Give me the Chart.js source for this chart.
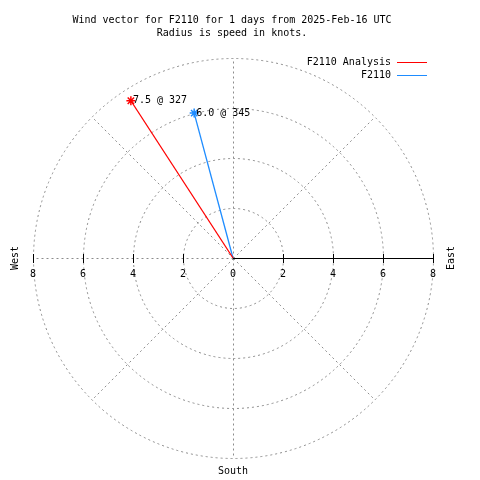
<!DOCTYPE html>
<html>
<head>
<meta charset="utf-8">
<title>Wind vector F2110</title>
<script src="https://cdn.jsdelivr.net/npm/chart.js@4.4.1/dist/chart.umd.min.js"></script>
<style>
  body { margin: 0; background: #fff; }
  canvas { display: block; }
</style>
</head>
<body>
<canvas id="wind" width="480" height="480"></canvas>
<script>
// data
var seriesNames = ['F2110 Analysis', 'F2110'];
var speeds = [7.5, 6.0];        // knots
var directions = [327, 345];    // degrees from north
var seriesColors = ['#ff0000', '#1e8cff'];
var ringTicks = [2, 4, 6, 8];
var axisTicks = [-8, -6, -4, -2, 0, 2, 4, 6, 8];
var spokeAngles = [0, 45, 90, 135, 180, 225, 270, 315];
var titleLines = ['Wind vector for F2110 for 1 days from 2025-Feb-16 UTC', 'Radius is speed in knots.'];

var FONT = '10px "DejaVu Sans Mono", "Liberation Mono", monospace';
var maxR = 8;

function toXY(speed, dir) {
    var a = dir * Math.PI / 180;
    return { x: speed * Math.sin(a), y: speed * Math.cos(a) };
}

var datasets = [];
for (var i = 0; i < speeds.length; i++) {
    datasets.push({
        label: seriesNames[i],
        data: [{ x: 0, y: 0 }, toXY(speeds[i], directions[i])],
        showLine: true,
        borderColor: seriesColors[i],
        backgroundColor: seriesColors[i],
        borderWidth: 1.3,
        pointStyle: 'star',
        pointRadius: [0, 4.5],
        pointBorderWidth: 1.5,
        pointBorderColor: seriesColors[i]
    });
}

var polarGrid = {
    id: 'polarGrid',
    beforeDatasetsDraw: function (chart) {
        var c = chart.ctx, xs = chart.scales.x, ys = chart.scales.y;
        var cx = xs.getPixelForValue(0), cy = ys.getPixelForValue(0);
        var unit = xs.getPixelForValue(1) - cx;
        c.save();
        c.strokeStyle = '#8c8c8c';
        c.lineWidth = 1;
        c.setLineDash([2, 3]);
        ringTicks.forEach(function (r) {
            c.beginPath();
            c.arc(cx + 0.5, cy + 0.5, r * unit, 0, Math.PI * 2);
            c.stroke();
        });
        spokeAngles.forEach(function (a) {
            if (a === 90) return; // east half is the solid axis
            var p = toXY(maxR, a);
            c.beginPath();
            c.moveTo(cx + 0.5, cy + 0.5);
            c.lineTo(xs.getPixelForValue(p.x) + 0.5, ys.getPixelForValue(p.y) + 0.5);
            c.stroke();
        });
        c.setLineDash([]);
        // solid axis to the east
        c.strokeStyle = '#000';
        c.beginPath();
        c.moveTo(cx, cy + 0.5);
        c.lineTo(xs.getPixelForValue(maxR), cy + 0.5);
        c.stroke();
        // tick marks
        axisTicks.forEach(function (t) {
            if (t === 0) return;
            var px = Math.round(xs.getPixelForValue(t)) + 0.5;
            c.beginPath();
            c.moveTo(px, cy - 4);
            c.lineTo(px, cy + 5);
            c.stroke();
        });
        c.restore();
    },
    afterDraw: function (chart) {
        var c = chart.ctx, xs = chart.scales.x, ys = chart.scales.y;
        var cx = xs.getPixelForValue(0), cy = ys.getPixelForValue(0);
        c.save();
        c.font = FONT;
        c.fillStyle = '#000';
        c.textBaseline = 'middle';

        // title
        c.textAlign = 'center';
        c.fillText(titleLines[0], 232, 20);
        c.fillText(titleLines[1], 232, 33);

        // tick labels
        axisTicks.forEach(function (t) {
            c.fillText(String(Math.abs(t)), xs.getPixelForValue(t), cy + 16);
        });

        // compass labels
        c.fillText('South', cx, ys.getPixelForValue(-maxR) + 13);
        c.save();
        c.translate(xs.getPixelForValue(-maxR) - 18, cy);
        c.rotate(-Math.PI / 2);
        c.fillText('West', 0, 0);
        c.restore();
        c.save();
        c.translate(xs.getPixelForValue(maxR) + 18, cy);
        c.rotate(-Math.PI / 2);
        c.fillText('East', 0, 0);
        c.restore();

        // vector labels
        c.textAlign = 'left';
        for (var i = 0; i < speeds.length; i++) {
            var p = toXY(speeds[i], directions[i]);
            c.fillText(speeds[i].toFixed(1) + ' @ ' + directions[i],
                xs.getPixelForValue(p.x) + 2, ys.getPixelForValue(p.y));
        }

        // key
        for (var k = 0; k < seriesNames.length; k++) {
            var ky = 62 + k * 13;
            c.fillStyle = '#000';
            c.textAlign = 'right';
            c.fillText(seriesNames[k], 391, ky);
            c.fillStyle = seriesColors[k];
            c.fillRect(397, ky, 30, 1);
        }
        c.restore();
    }
};

var chart = new Chart(document.getElementById('wind').getContext('2d'), {
    type: 'scatter',
    data: { datasets: datasets },
    options: {
        responsive: false,
        animation: false,
        layout: {
            autoPadding: false,
            padding: { left: 33, right: 47, top: 58, bottom: 22 }
        },
        scales: {
            x: { type: 'linear', min: -maxR, max: maxR, display: false },
            y: { type: 'linear', min: -maxR, max: maxR, display: false }
        },
        plugins: {
            legend: { display: false },
            title: { display: false },
            tooltip: { enabled: false }
        }
    },
    plugins: [polarGrid]
});
</script>
</body>
</html>
